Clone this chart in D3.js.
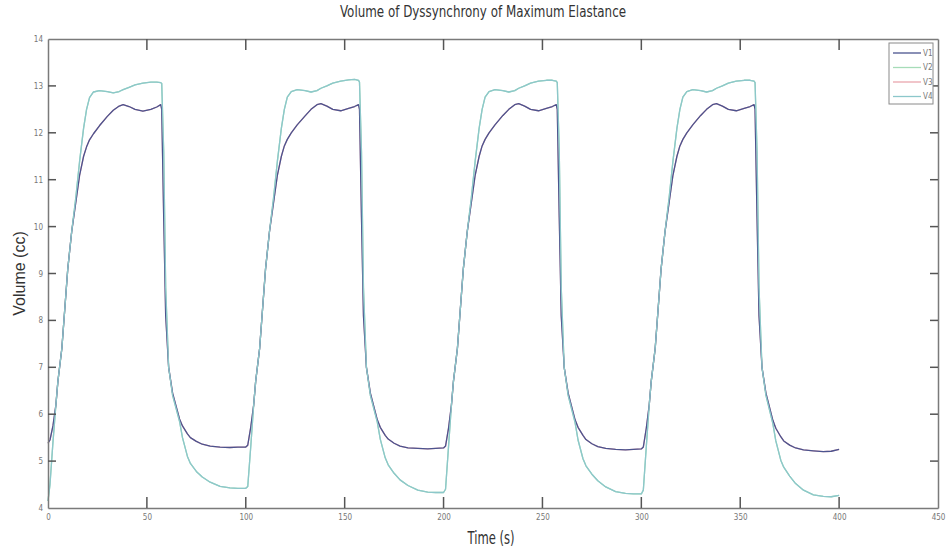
<!DOCTYPE html>
<html>
<head>
<meta charset="utf-8">
<script src="https://cdn.jsdelivr.net/npm/d3@7"></script>
<style>
	body { margin: 0; background: #fff; }
	.axis path { stroke: #7a7a7a; }
	.axis text { fill: #777; font-family: "DejaVu Sans Condensed", "Liberation Sans Narrow", sans-serif; font-stretch: condensed; font-size: 8px; }
</style>
</head>
<body>
<div id="chart"><svg width="946" height="554"></svg></div>
<script>
const TITLE = 'Volume of Dyssynchrony of Maximum Elastance';
const X_LABEL = 'Time (s)';
const Y_LABEL = 'Volume (cc)';
const X_TICKS = [0, 50, 100, 150, 200, 250, 300, 350, 400, 450];
const Y_TICKS = [4, 5, 6, 7, 8, 9, 10, 11, 12, 13, 14];
const SERIES_NAMES = ['V1', 'V2', 'V3', 'V4'];
const LINE_COLORS = ['#4b548f', '#a6dcb8', '#eaa6ae', '#8cc7cb'];
const NARROW_FONT = "'DejaVu Sans Condensed', 'Liberation Sans Narrow', sans-serif";
const SVG_MARGIN = {
	top: 39,
	right: 8,
	bottom: 46,
	left: 48
};

// time (s)
const TIME = [
	0, 1, 2.5, 4, 5, 7, 10, 12, 14, 16, 18, 19.5, 21, 23, 26, 30, 33, 36, 38, 41,
	44, 48, 52, 55, 57, 57.5, 58.5, 59.5, 61, 63, 66.5, 68, 70.5, 72, 75, 78, 82, 87, 92, 96,
	100, 101, 102.5, 104, 105, 107, 110, 112, 114, 116, 118, 119.5, 121, 123, 126, 130, 133, 136, 138, 141,
	144, 148, 152, 155, 157, 157.5, 158.5, 159.5, 161, 163, 166.5, 168, 170.5, 172, 175, 178, 182, 187, 192, 196,
	200, 201, 202.5, 204, 205, 207, 210, 212, 214, 216, 218, 219.5, 221, 223, 226, 230, 233, 236, 238, 241,
	244, 248, 252, 255, 257, 257.5, 258.5, 259.5, 261, 263, 266.5, 268, 270.5, 272, 275, 278, 282, 287, 292, 296,
	300, 301, 302.5, 304, 305, 307, 310, 312, 314, 316, 318, 319.5, 321, 323, 326, 330, 333, 336, 338, 341,
	344, 348, 352, 355, 357, 357.5, 358.5, 359.5, 361, 363, 366.5, 368, 370.5, 372, 375, 378, 382, 387, 392, 396,
	400
];

// lower plateau curve (V1, V3 lies on it)
const V1 = [
	5.38, 5.45, 5.75, 6.2, 6.7, 7.4, 9.1, 9.9, 10.5, 11.1, 11.5, 11.7, 11.85, 11.98, 12.15, 12.35, 12.48, 12.57, 12.6, 12.56,
	12.5, 12.46, 12.5, 12.55, 12.6, 12.5, 10.2, 8.1, 7.0, 6.45, 5.9, 5.75, 5.58, 5.5, 5.42, 5.36, 5.32, 5.3, 5.29, 5.3,
	5.3, 5.34, 5.72, 6.2, 6.7, 7.4, 9.1, 9.9, 10.5, 11.1, 11.5, 11.72, 11.86, 12.0, 12.17, 12.36, 12.5, 12.6, 12.62, 12.57,
	12.5, 12.47, 12.52, 12.56, 12.6, 12.5, 10.2, 8.1, 7.0, 6.45, 5.88, 5.72, 5.55, 5.47, 5.38, 5.32, 5.28, 5.27, 5.26, 5.27,
	5.28, 5.32, 5.7, 6.2, 6.7, 7.4, 9.1, 9.9, 10.5, 11.1, 11.5, 11.72, 11.86, 12.0, 12.17, 12.37, 12.5, 12.6, 12.62, 12.57,
	12.5, 12.47, 12.52, 12.56, 12.6, 12.5, 10.2, 8.1, 7.0, 6.45, 5.88, 5.72, 5.55, 5.46, 5.37, 5.31, 5.27, 5.25, 5.24, 5.25,
	5.26, 5.3, 5.7, 6.2, 6.7, 7.4, 9.1, 9.9, 10.5, 11.1, 11.5, 11.72, 11.86, 12.0, 12.17, 12.37, 12.5, 12.6, 12.62, 12.57,
	12.5, 12.47, 12.52, 12.56, 12.6, 12.5, 10.2, 8.1, 7.0, 6.45, 5.87, 5.7, 5.52, 5.43, 5.34, 5.28, 5.24, 5.22, 5.2, 5.21,
	5.25
];

// upper plateau curve (V4, V2 lies under it)
const V4 = [
	4.15, 4.5, 5.4, 6.2, 6.7, 7.4, 9.1, 9.9, 10.6, 11.4, 12.1, 12.5, 12.75, 12.87, 12.9, 12.88, 12.85, 12.88, 12.92, 12.97,
	13.02, 13.06, 13.08, 13.08, 13.07, 13.05, 11.6, 8.7, 7.0, 6.4, 5.85, 5.5, 5.1, 4.95, 4.78, 4.66, 4.55, 4.46, 4.43, 4.42,
	4.42, 4.46, 5.3, 6.2, 6.7, 7.4, 9.1, 9.9, 10.6, 11.4, 12.1, 12.5, 12.76, 12.88, 12.92, 12.9, 12.87, 12.9, 12.95, 13.0,
	13.06, 13.1, 13.13, 13.14, 13.12, 13.08, 11.6, 8.7, 7.0, 6.4, 5.83, 5.47, 5.07, 4.92, 4.74, 4.6, 4.48, 4.38, 4.34, 4.33,
	4.33, 4.4, 5.3, 6.2, 6.7, 7.4, 9.1, 9.9, 10.6, 11.4, 12.1, 12.5, 12.76, 12.88, 12.92, 12.9, 12.87, 12.9, 12.95, 13.0,
	13.06, 13.1, 13.12, 13.12, 13.1, 13.07, 11.6, 8.7, 7.0, 6.4, 5.82, 5.45, 5.05, 4.9, 4.72, 4.58, 4.45, 4.35, 4.31, 4.3,
	4.3, 4.38, 5.3, 6.2, 6.7, 7.4, 9.1, 9.9, 10.6, 11.4, 12.1, 12.5, 12.76, 12.88, 12.92, 12.9, 12.87, 12.9, 12.95, 13.0,
	13.06, 13.1, 13.12, 13.12, 13.1, 13.07, 11.6, 8.7, 7.0, 6.4, 5.8, 5.43, 5.02, 4.87, 4.68, 4.52, 4.38, 4.28, 4.25, 4.24,
	4.27
];

const V2 = V4;
const V3 = V1;
const SERIES_VALUES = [V1, V2, V3, V4];
// drawing order, so the two visible curves end up on top
const DRAW_ORDER = [1, 2, 0, 3];

const X_TICK_LEN = 11;
const Y_TICK_LEN = 8;

const buildAxes = (g, x, y, width, height) => {
	g.append("g")
		.attr("class", "axis")
		.attr("transform", "translate(0," + height + ")")
		.call(d3.axisBottom(x).tickValues(X_TICKS).tickSize(0).tickPadding(6).tickFormat(d3.format("d")));

	g.append("g")
		.attr("class", "axis")
		.call(d3.axisTop(x).tickValues(X_TICKS).tickSize(0).tickFormat(""));

	g.append("g")
		.attr("class", "axis")
		.call(d3.axisLeft(y).tickValues(Y_TICKS).tickSize(0).tickPadding(5).tickFormat(d3.format("d")));

	g.append("g")
		.attr("class", "axis")
		.attr("transform", "translate(" + width + ",0)")
		.call(d3.axisRight(y).tickValues(Y_TICKS).tickSize(0).tickFormat(""));

	g.selectAll(".axis .domain").attr("stroke-width", 1.5);

	// inward tick marks on all four sides of the box
	let marks = g.append("g")
		.attr("stroke", "#555")
		.attr("stroke-width", 1.5);

	[0, height].forEach((base) => {
		marks.selectAll(null)
			.data(X_TICKS.slice(1, -1))
			.enter().append("line")
			.attr("x1", (d) => x(d))
			.attr("x2", (d) => x(d))
			.attr("y1", base)
			.attr("y2", base === 0 ? X_TICK_LEN : height - X_TICK_LEN);
	});
	[0, width].forEach((base) => {
		marks.selectAll(null)
			.data(Y_TICKS.slice(1, -1))
			.enter().append("line")
			.attr("y1", (d) => y(d))
			.attr("y2", (d) => y(d))
			.attr("x1", base)
			.attr("x2", base === 0 ? Y_TICK_LEN : width - Y_TICK_LEN);
	});
};

const buildLines = (g, x, y) => {
	let line = d3.line()
		.x((d) => x(d[0]))
		.y((d) => y(d[1]));

	g.append("g")
		.selectAll("path")
		.data(DRAW_ORDER)
		.enter().append("path")
		.attr("fill", "none")
		.attr("stroke", (i) => LINE_COLORS[i])
		.attr("stroke-width", 1.3)
		.attr("stroke-linejoin", "round")
		.attr("d", (i) => line(TIME.map((t, k) => [t, SERIES_VALUES[i][k]])));
};

const buildLegend = (g, width) => {
	let lg = g.append("g")
		.attr("transform", "translate(" + (width - 49) + ",4)");

	lg.append("rect")
		.attr("width", 44)
		.attr("height", 61)
		.attr("fill", "#fff")
		.attr("stroke", "#8a8a8a");

	let row = lg.selectAll("g")
		.data(SERIES_NAMES)
		.enter().append("g")
		.attr("transform", (d, i) => "translate(0," + (10 + i * 14.5) + ")");

	row.append("line")
		.attr("x1", 4)
		.attr("x2", 32)
		.attr("stroke", (d, i) => LINE_COLORS[i])
		.attr("stroke-width", 1.3);

	row.append("text")
		.attr("x", 34)
		.attr("dy", "0.35em")
		.attr("fill", "#777")
		.attr("font-family", NARROW_FONT)
		.attr("font-stretch", "condensed")
		.attr("font-size", 8)
		.text((d) => d);
};

const build = () => {
	let svg = d3.select("#chart svg");
	let width = +svg.attr("width") - SVG_MARGIN.left - SVG_MARGIN.right;
	let height = +svg.attr("height") - SVG_MARGIN.top - SVG_MARGIN.bottom;
	let g = svg.append("g").attr("transform", "translate(" + SVG_MARGIN.left + "," + SVG_MARGIN.top + ")");

	let x = d3.scaleLinear()
		.domain([0, 450])
		.range([0, width]);

	let y = d3.scaleLinear()
		.domain([4, 14])
		.range([height, 0]);

	buildLines(g, x, y);
	buildAxes(g, x, y, width, height);
	buildLegend(g, width);

	svg.append("text")
		.attr("x", 483)
		.attr("y", 17)
		.attr("text-anchor", "middle")
		.attr("fill", "#333")
		.attr("font-family", NARROW_FONT)
		.attr("font-stretch", "condensed")
		.attr("font-size", 15)
		.attr("textLength", 286)
		.attr("lengthAdjust", "spacingAndGlyphs")
		.text(TITLE);

	svg.append("text")
		.attr("x", 491)
		.attr("y", 544)
		.attr("text-anchor", "middle")
		.attr("fill", "#333")
		.attr("font-family", NARROW_FONT)
		.attr("font-stretch", "condensed")
		.attr("font-size", 18)
		.attr("textLength", 47)
		.attr("lengthAdjust", "spacingAndGlyphs")
		.text(X_LABEL);

	svg.append("text")
		.attr("transform", "translate(25," + (SVG_MARGIN.top + height / 2) + ") rotate(-90)")
		.attr("text-anchor", "middle")
		.attr("fill", "#333")
		.attr("font-family", "'Liberation Sans', Arial, sans-serif")
		.attr("font-size", 16)
		.text(Y_LABEL);
};

build();
</script>
</body>
</html>
